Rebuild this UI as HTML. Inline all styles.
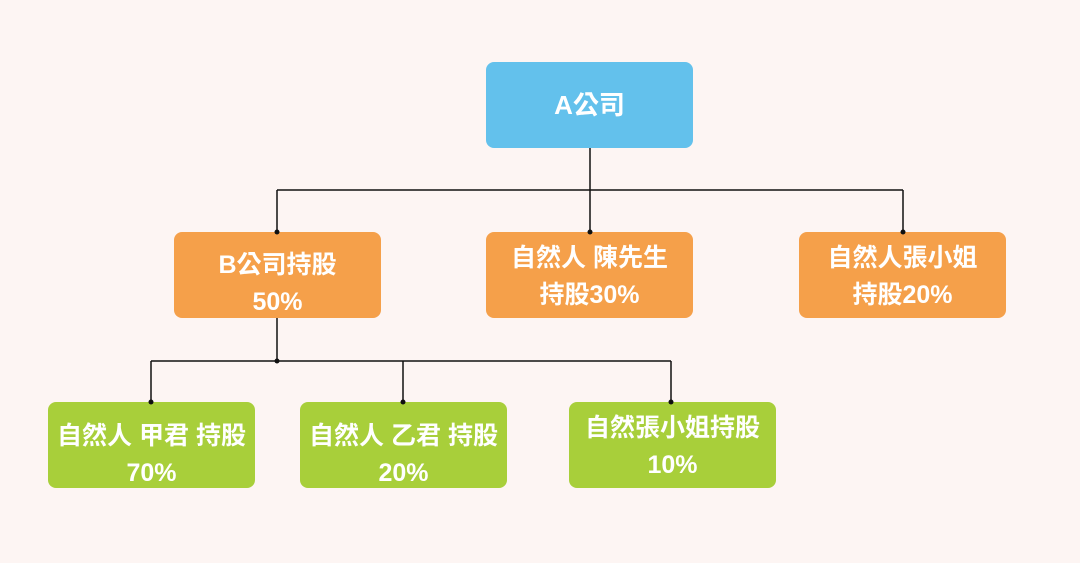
<!DOCTYPE html>
<html><head><meta charset="utf-8"><style>
html,body{margin:0;padding:0}
body{width:1080px;height:563px;background:#fdf5f3;position:relative;overflow:hidden;font-family:"Liberation Sans","Noto Sans CJK TC",sans-serif}
.b{position:absolute;width:207px;height:86px;border-radius:8px;color:#fff;font-weight:bold;font-size:25px;line-height:37px;text-align:center;box-sizing:border-box;display:flex;flex-direction:column;justify-content:center;white-space:nowrap}
.bl{background:#63c1ec}.or{background:#f5a04a}.gr{background:#a8cf3a}
svg{position:absolute;left:0;top:0;z-index:2}
</style></head><body>
<svg width="1080" height="563">
<g stroke="#111" stroke-width="1.5" fill="none">
<path d="M590 148V190M277 190H903M277 190V232M590 190V232M903 190V232"/>
<path d="M277 318V361M151 361H671M151 361V402M403 361V402M671 361V402"/>
</g>
<g fill="#111">
<circle cx="277" cy="232" r="2.5"/><circle cx="590" cy="232" r="2.5"/><circle cx="903" cy="232" r="2.5"/>
<circle cx="277" cy="361" r="2.5"/><circle cx="151" cy="402" r="2.5"/><circle cx="403" cy="402" r="2.5"/><circle cx="671" cy="402" r="2.5"/>
</g>
</svg>
<div class="b bl" style="left:486px;top:62px;font-size:26px">A公司</div>
<div class="b or" style="left:174px;top:232px;padding-top:18px"><div>B公司持股</div><div>50%</div></div>
<div class="b or" style="left:486px;top:232px;padding-top:4px"><div>自然人 陳先生</div><div>持股30%</div></div>
<div class="b or" style="left:799px;top:232px;padding-top:4px"><div>自然人張小姐</div><div>持股20%</div></div>
<div class="b gr" style="left:48px;top:402px;padding-top:20px"><div>自然人 甲君 持股</div><div>70%</div></div>
<div class="b gr" style="left:300px;top:402px;padding-top:20px"><div>自然人 乙君 持股</div><div>20%</div></div>
<div class="b gr" style="left:569px;top:402px;padding-top:4px"><div>自然張小姐持股</div><div>10%</div></div>
</body></html>
